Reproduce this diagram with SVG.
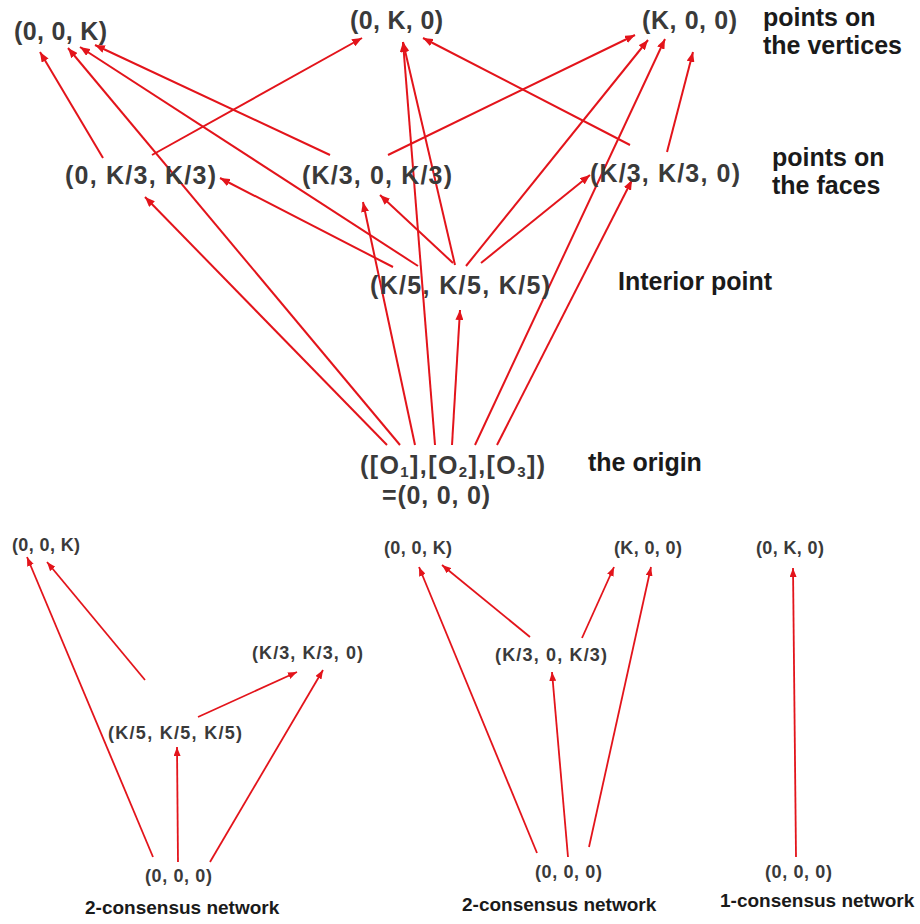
<svg xmlns="http://www.w3.org/2000/svg" width="920" height="924" viewBox="0 0 920 924">
<defs>
<style>
.e{stroke:#e3141b;stroke-width:2;fill:none;marker-end:url(#ah)}
.es{stroke:#e3141b;stroke-width:1.8;fill:none;marker-end:url(#ahs)}
.n{font-family:"Liberation Sans",Arial,sans-serif;font-weight:bold;fill:#3a3a3a;font-size:25px}
.ns{font-family:"Liberation Sans",Arial,sans-serif;font-weight:bold;fill:#3a3a3a;font-size:18px}
.lab{font-family:"Liberation Sans",Arial,sans-serif;font-weight:bold;fill:#1a1a1a;font-size:25px}
.labs{font-family:"Liberation Sans",Arial,sans-serif;font-weight:bold;fill:#1a1a1a;font-size:19px}
</style>
<marker id="ah" markerUnits="userSpaceOnUse" markerWidth="10" markerHeight="8" viewBox="0 0 10 8" refX="10" refY="4" orient="auto">
<path d="M0,0 L10,4 L0,8 z" fill="#e3141b"/>
</marker>
<marker id="ahs" markerUnits="userSpaceOnUse" markerWidth="9" markerHeight="7" viewBox="0 0 9 7" refX="9" refY="3.5" orient="auto">
<path d="M0,0 L9,3.5 L0,7 z" fill="#e3141b"/>
</marker>
</defs>
<rect width="920" height="924" fill="#ffffff"/>

<g id="connectors">
<line class="e" x1="103" y1="158" x2="40" y2="52"/>
<line class="e" x1="400" y1="445" x2="68" y2="48"/>
<line class="e" x1="418" y1="266" x2="80" y2="47"/>
<line class="e" x1="330" y1="155" x2="95" y2="45"/>
<line class="e" x1="152" y1="155" x2="362" y2="38"/>
<line class="e" x1="435" y1="445" x2="403" y2="42"/>
<line class="e" x1="455" y1="265" x2="403" y2="42"/>
<line class="e" x1="630" y1="145" x2="423" y2="38"/>
<line class="e" x1="388" y1="155" x2="635" y2="35"/>
<line class="e" x1="466" y1="266" x2="648" y2="40"/>
<line class="e" x1="475" y1="445" x2="665" y2="39"/>
<line class="e" x1="667" y1="152" x2="693" y2="52"/>
<line class="e" x1="393" y1="267" x2="220" y2="178"/>
<line class="e" x1="387" y1="445" x2="145" y2="197"/>
<line class="e" x1="453" y1="263" x2="380" y2="195"/>
<line class="e" x1="415" y1="445" x2="363" y2="202"/>
<line class="e" x1="481" y1="263" x2="590" y2="175"/>
<line class="e" x1="497" y1="445" x2="632" y2="180"/>
<line class="e" x1="452" y1="445" x2="460" y2="310"/>

<line class="es" x1="153" y1="857" x2="27" y2="557"/>
<line class="es" x1="145" y1="680" x2="47" y2="562"/>
<line class="es" x1="198" y1="717" x2="297" y2="672"/>
<line class="es" x1="178" y1="862" x2="177" y2="747"/>
<line class="es" x1="210" y1="862" x2="323" y2="670"/>

<line class="es" x1="537" y1="853" x2="419" y2="567"/>
<line class="es" x1="530" y1="637" x2="442" y2="565"/>
<line class="es" x1="582" y1="638" x2="614" y2="567"/>
<line class="es" x1="568" y1="857" x2="552" y2="672"/>
<line class="es" x1="589" y1="847" x2="651" y2="567"/>

<line class="es" x1="796" y1="857" x2="793" y2="568"/>
</g>

<g id="v-00K"><text class="n" x="14" y="40" textLength="93" lengthAdjust="spacing">(0, 0, K)</text></g>
<g id="v-0K0"><text class="n" x="350" y="29" textLength="93" lengthAdjust="spacing">(0, K, 0)</text></g>
<g id="v-K00"><text class="n" x="642" y="29" textLength="95" lengthAdjust="spacing">(K, 0, 0)</text></g>
<g id="f-0KK"><text class="n" x="65" y="184" textLength="151" lengthAdjust="spacing">(0, K/3, K/3)</text></g>
<g id="f-K0K"><text class="n" x="302" y="184" textLength="150" lengthAdjust="spacing">(K/3, 0, K/3)</text></g>
<g id="f-KK0"><text class="n" x="590" y="182" textLength="150" lengthAdjust="spacing">(K/3, K/3, 0)</text></g>
<g id="interior"><text class="n" x="370" y="294" textLength="180" lengthAdjust="spacing">(K/5, K/5, K/5)</text></g>
<g id="origin">
<text class="n" x="360" y="474" textLength="185" lengthAdjust="spacing">([O<tspan font-size="15" dy="3">1</tspan><tspan dy="-3">],[O</tspan><tspan font-size="15" dy="3">2</tspan><tspan dy="-3">],[O</tspan><tspan font-size="15" dy="3">3</tspan><tspan dy="-3">])</tspan></text>
<text class="n" x="382" y="504" textLength="108" lengthAdjust="spacing">=(0, 0, 0)</text>
</g>

<g id="labels">
<text class="lab" x="763" y="26">points on</text>
<text class="lab" x="763" y="54">the vertices</text>
<text class="lab" x="772" y="166">points on</text>
<text class="lab" x="772" y="194">the faces</text>
<text class="lab" x="618" y="290">Interior point</text>
<text class="lab" x="588" y="471">the origin</text>
</g>

<g id="net1">
<g id="n1-00K"><text class="ns" x="12" y="551" textLength="68" lengthAdjust="spacing">(0, 0, K)</text></g>
<g id="n1-KK0"><text class="ns" x="252" y="659" textLength="111" lengthAdjust="spacing">(K/3, K/3, 0)</text></g>
<g id="n1-int"><text class="ns" x="108" y="739" textLength="134" lengthAdjust="spacing">(K/5, K/5, K/5)</text></g>
<g id="n1-o"><text class="ns" x="145" y="882" textLength="67" lengthAdjust="spacing">(0, 0, 0)</text></g>
<text class="labs" x="85" y="914">2-consensus network</text>
</g>

<g id="net2">
<g id="n2-00K"><text class="ns" x="384" y="554" textLength="68" lengthAdjust="spacing">(0, 0, K)</text></g>
<g id="n2-K00"><text class="ns" x="614" y="554" textLength="68" lengthAdjust="spacing">(K, 0, 0)</text></g>
<g id="n2-K0K"><text class="ns" x="495" y="661" textLength="112" lengthAdjust="spacing">(K/3, 0, K/3)</text></g>
<g id="n2-o"><text class="ns" x="535" y="878" textLength="67" lengthAdjust="spacing">(0, 0, 0)</text></g>
<text class="labs" x="462" y="911">2-consensus network</text>
</g>

<g id="net3">
<g id="n3-0K0"><text class="ns" x="756" y="554" textLength="68" lengthAdjust="spacing">(0, K, 0)</text></g>
<g id="n3-o"><text class="ns" x="765" y="878" textLength="67" lengthAdjust="spacing">(0, 0, 0)</text></g>
<text class="labs" x="720" y="907">1-consensus network</text>
</g>
</svg>
